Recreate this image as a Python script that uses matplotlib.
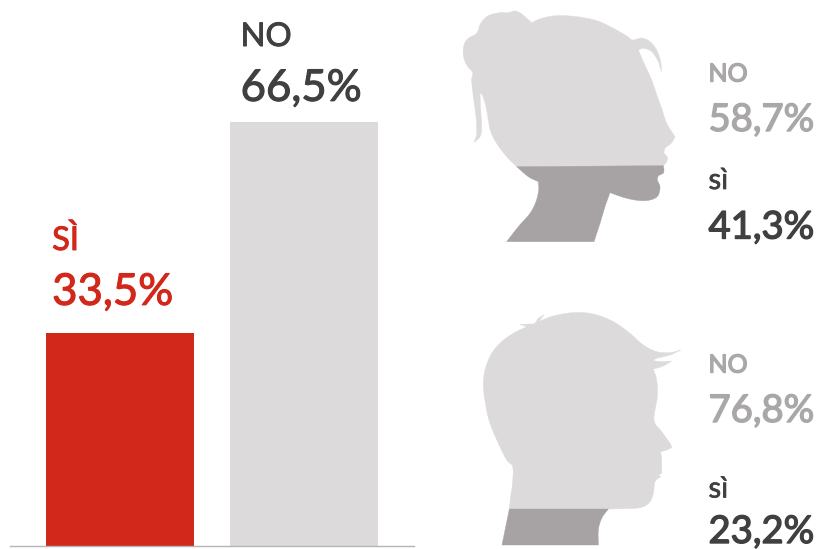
import numpy as np
import matplotlib
matplotlib.use("Agg")
import matplotlib.pyplot as plt
import matplotlib.patheffects as pe
from matplotlib.patches import Polygon

plt.rcParams['font.family'] = ['Lato', 'DejaVu Sans']

# Totals
categories = ['SÌ', 'NO']
totals = [33.5, 66.5]
total_labels = ['33,5%', '66,5%']

# Women and men
women_labels = ['NO', '58,7%', 'sì', '41,3%']
men_labels = ['NO', '76,8%', 'sì', '23,2%']

RED = '#d2281c'
DARK = '#404040'
LIGHT = '#dcdadb'
MID = '#a7a3a4'
TEXT_GREY = '#aaa7a8'

W, H = 816, 549

# Head outlines, in units of a third of a pixel from the top left of each head
woman_hair = [(200,500),(170,470),(140,430),(122,395),(115,360),(108,320),(97,285),(90,280),
              (92,330),(95,380),(90,410),(72,427),(80,400),(78,350),(70,290),(65,240),(68,218),
              (50,195),(40,165),(42,135),(55,115),(80,100),(92,70),(115,47),(150,38),(175,38),
              (195,33),(215,42),(245,68),(275,55),(320,47),(380,50),(440,62),(490,85),(530,108),
              (548,120),(575,114),(600,125),(620,150),(632,185),(634,215),(625,185),(605,155),
              (580,145),(565,150),(580,185),(605,240),(622,290),(635,325),(650,370),(675,410),
              (665,428),(645,445),(642,460),(652,472),(650,485),(640,497)]
woman_neck = [(170,725),(205,680),(240,640),(258,605),(266,570),(265,545),(235,530),(200,500),
              (640,497),(642,510),(640,520),(625,527),(622,540),(630,560),(625,585),(610,597),
              (585,602),(555,600),(520,592),(480,578),(465,620),(450,670),(437,710),(432,725)]
man_hair = [(118,627),(122,590),(128,545),(128,500),(110,480),(85,430),(60,370),(48,320),(40,260),
            (45,210),(65,160),(95,125),(130,100),(170,80),(150,73),(185,72),(195,70),(205,55),
            (222,45),(205,65),(250,48),(310,38),(370,42),(430,65),(480,100),(520,135),(560,155),
            (600,158),(632,150),(600,165),(560,175),(550,182),(575,185),(605,183),(580,198),
            (550,207),(560,240),(562,290),(552,360),(575,395),(600,430),(605,443),(590,450),
            (572,455),(575,480),(575,520),(565,525),(572,530),(555,545),(550,580),(540,605),
            (520,620),(490,625),(420,627)]
man_neck = [(118,627),(96,735),(385,735),(385,690),(395,655),(415,627)]

fig = plt.figure(figsize=(W / 100, H / 100), dpi=100)

# Full-figure layer in pixel units for the heads and the side labels
bg = fig.add_axes([0, 0, 1, 1])
bg.set_xlim(0, W)
bg.set_ylim(H, 0)
bg.axis('off')


def smooth(points, forced=(), corner_deg=50, steps=8):
    # closed Catmull-Rom curve that keeps sharp turns as corners
    p = np.array(points, dtype=float)
    n = len(p)
    tang = np.zeros_like(p)
    corner = np.zeros(n, dtype=bool)
    for i in range(n):
        a = p[i] - p[i - 1]
        b = p[(i + 1) % n] - p[i]
        cos = a @ b / (np.linalg.norm(a) * np.linalg.norm(b))
        corner[i] = np.degrees(np.arccos(np.clip(cos, -1, 1))) > corner_deg
        tang[i] = (p[(i + 1) % n] - p[i - 1]) / 2
    corner[list(forced)] = True
    out = []
    t = np.linspace(0, 1, steps, endpoint=False)[:, None]
    for i in range(n):
        j = (i + 1) % n
        m0 = (p[j] - p[i]) if corner[i] else tang[i]
        m1 = (p[j] - p[i]) if corner[j] else tang[j]
        out.append((2*t**3 - 3*t**2 + 1) * p[i] + (t**3 - 2*t**2 + t) * m0
                   + (-2*t**3 + 3*t**2) * p[j] + (t**3 - t**2) * m1)
    return np.vstack(out)


def head(points, x0, y0, color, forced):
    pts = smooth(points, forced) / 3 + [x0, y0]
    bg.add_patch(Polygon(pts, closed=True, fc=color, ec=color, lw=0.3))


head(woman_hair, 450, 0, LIGHT, [0, -1])
head(woman_neck, 450, 0, MID, [0, 7, 8, -1])
head(man_hair, 470, 300, LIGHT, [0, -1])
head(man_neck, 470, 300, MID, [0, 1, 2, 5])


# thin stroke to bring Lato regular up to a medium weight
def medium(color, width=0.7):
    return [pe.withStroke(linewidth=width, foreground=color)]


def side_labels(labels, y_list):
    colors = [TEXT_GREY, TEXT_GREY, DARK, DARK]
    sizes = [18, 27.5, 21, 27.5]
    strokes = [1.0, 1.0, 0.5, 1.0]
    for lab, y, c, s, w in zip(labels, y_list, colors, sizes, strokes):
        t = bg.text(708.5, y, lab, color=c, fontsize=s, va='baseline', ha='left')
        t.set_path_effects(medium(c, w))


side_labels(women_labels, [81.5, 131, 189, 238.5])
side_labels(men_labels, [372.5, 422, 497.5, 543])

# Bars
ax = fig.add_axes([10 / W, (H - 546) / H, 404 / W, 546 / H])
ax.patch.set_alpha(0)
ax.bar(range(len(totals)), totals, width=148 / 184, color=[RED, LIGHT])
ax.set_xlim(-110 / 184, 294 / 184)
ax.set_ylim(0, 546 / 6.37)
for s in ['top', 'left', 'right']:
    ax.spines[s].set_visible(False)
ax.spines['bottom'].set_color('#b5b3b3')
ax.spines['bottom'].set_linewidth(1)
ax.set_xticks([])
ax.set_yticks([])

# Labels above each bar, left-aligned a little inside it
text_colors = [RED, DARK]
x_off = [4.4, 7.6]
value_off = [20, 15.5]
cat_off = [59.5, 55]
for i, (cat, lab, v) in enumerate(zip(categories, total_labels, totals)):
    t1 = ax.annotate(lab, (i - 0.402, v), xytext=(x_off[i], value_off[i]), textcoords='offset points',
                     color=text_colors[i], fontsize=31.5, va='baseline')
    t2 = ax.annotate(cat, (i - 0.402, v), xytext=(x_off[i], cat_off[i]), textcoords='offset points',
                     color=text_colors[i], fontsize=23.5, va='baseline')
    t1.set_path_effects(medium(text_colors[i], 0.8))
    t2.set_path_effects(medium(text_colors[i], 0.7))

fig.savefig('out.png', dpi=100)
